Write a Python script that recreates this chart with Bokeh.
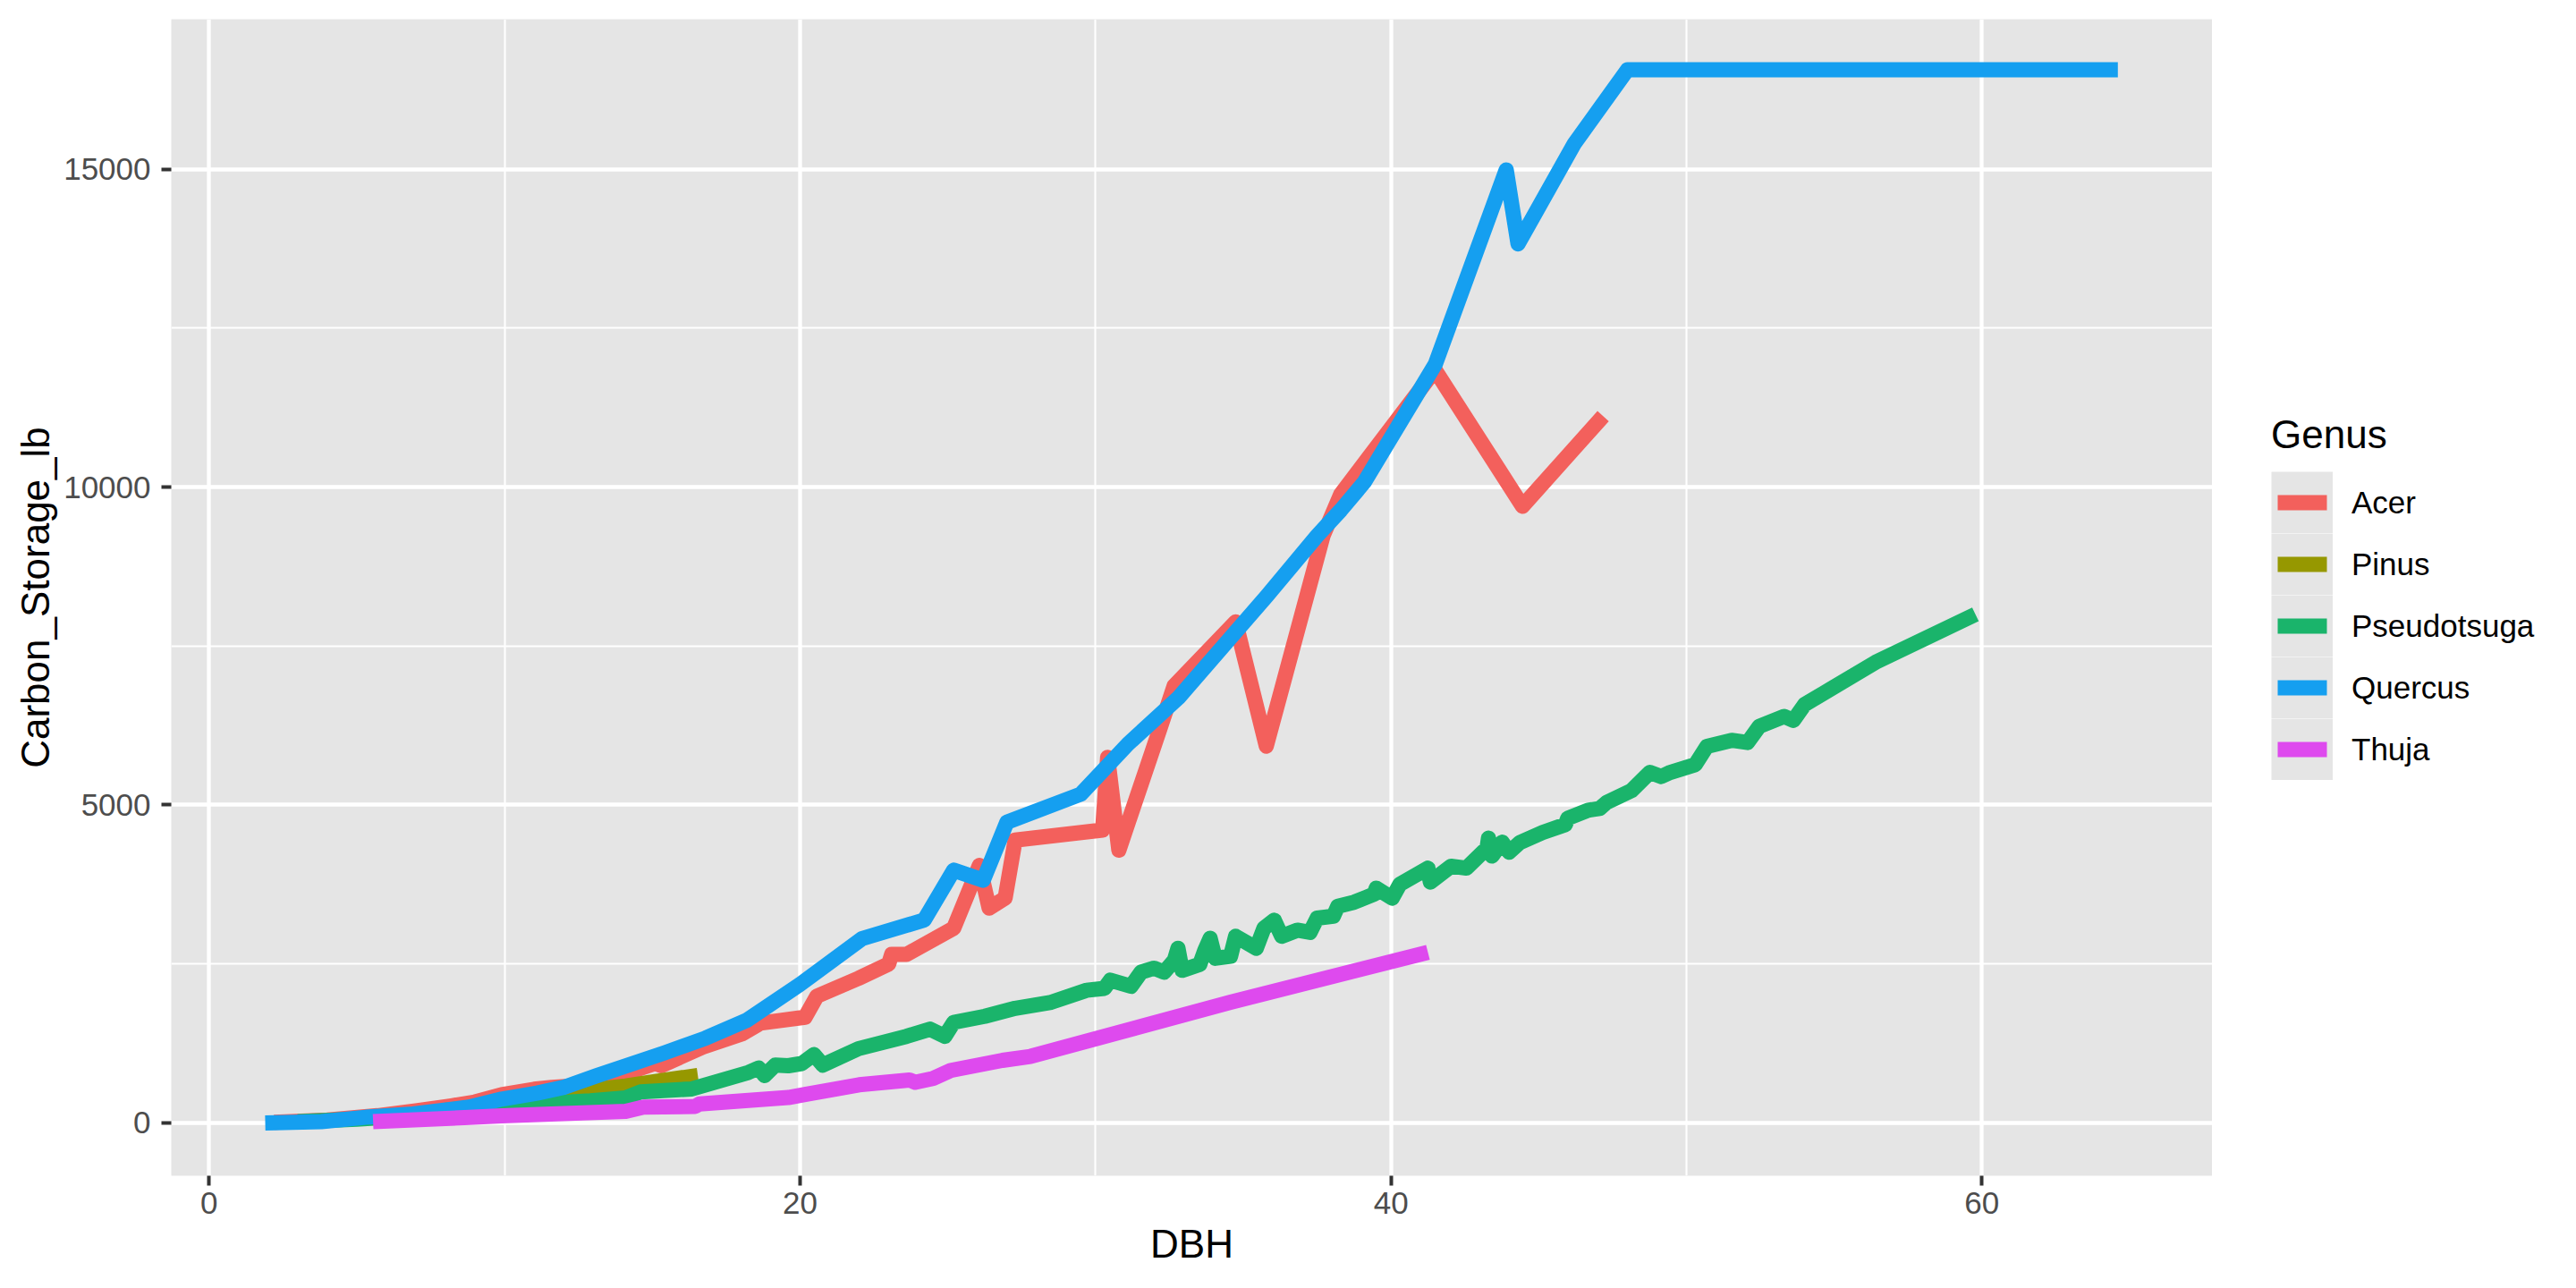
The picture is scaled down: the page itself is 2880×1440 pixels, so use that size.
import numpy as np
from bokeh.plotting import figure
from bokeh.layouts import row
from bokeh.models import Range1d, FixedTicker, Legend, LegendItem
from bokeh.embed import file_html
from bokeh.resources import INLINE

genera = ["Acer", "Pinus", "Pseudotsuga", "Quercus", "Thuja"]
colors = ["#F3605C", "#969800", "#1AB46B", "#159FF0", "#DE4AEE"]

acer_dbh = [2.2, 4.0, 5.7, 7.0, 8.2, 9.0, 9.9, 11.0, 11.6, 12.7, 13.6, 13.9, 15.1, 15.3, 16.7,
            18.05, 18.66, 20.17, 20.57, 21.98, 23.0, 23.1, 23.6, 25.2, 26.07, 26.4, 26.94, 27.28,
            30.24, 30.41, 30.79, 32.14, 32.66, 34.74, 35.78, 37.7, 38.3, 41.49, 44.45, 47.18]
acer_carbon = [10, 45, 115, 190, 270, 330, 445, 530, 560, 595, 629, 746, 939, 900, 1193,
               1405, 1570, 1663, 1993, 2275, 2500, 2650, 2650, 3062, 4050, 3379, 3535, 4447,
               4606, 5750, 4290, 6147, 6871, 7878, 5926, 9233, 9887, 11842, 9698, 11115]

pinus_dbh = [8.0, 10.0, 11.9, 14.1, 15.1, 16.54]
pinus_carbon = [200, 290, 464, 582, 653, 746]

pseudotsuga_dbh = [3.0, 5.0, 7.0, 8.5, 9.9, 11.07, 12.9, 14.1, 14.6, 16.34, 18.25, 18.6, 18.8,
                   19.16, 19.6, 20.06, 20.47, 20.77, 21.98, 23.6, 24.4, 24.9, 25.2, 26.25, 27.28,
                   28.5, 29.7, 30.3, 30.5, 31.2, 31.54, 31.98, 32.32, 32.67, 32.79, 32.93, 33.53,
                   33.7, 33.88, 34.05, 34.57, 34.74, 35.44, 35.7, 36.05, 36.3, 36.83, 37.26, 37.5,
                   38.05, 38.2, 38.75, 39.43, 39.5, 40.04, 40.3, 41.25, 41.33, 42.03, 42.55, 43.25,
                   43.3, 43.42, 43.76, 44.0, 44.36, 45.13, 45.9, 45.98, 46.67, 47.06, 47.3, 48.14,
                   48.76, 49.15, 49.45, 50.3, 50.69, 51.53, 52.07, 52.46, 53.31, 53.62, 54.0, 56.4,
                   59.78]
pseudotsuga_carbon = [20, 60, 120, 180, 253, 300, 347, 394, 488, 535, 794, 864, 746,
                      911, 900, 935, 1076, 911, 1169, 1362, 1475, 1362, 1582, 1677, 1803,
                      1898, 2086, 2117, 2244, 2149, 2370, 2434, 2370, 2561, 2747, 2400, 2495,
                      2716, 2904, 2589, 2621, 2936, 2747, 3062, 3188, 2936, 3031, 2998, 3220,
                      3252, 3408, 3471, 3598, 3692, 3535, 3754, 4007, 3788, 4038, 4007, 4322,
                      4479, 4197, 4416, 4258, 4409, 4567, 4692, 4790, 4917, 4945, 5040, 5227,
                      5512, 5448, 5512, 5636, 5921, 6017, 5983, 6235, 6393, 6330, 6581, 7244,
                      7998]

quercus_dbh = [1.9, 3.8, 5.3, 6.9, 8.8, 9.9, 11.1, 12.0, 13.1, 14.0, 15.4, 16.8, 18.2, 20.0,
               22.1, 24.2, 25.2, 26.2, 27.0, 29.5, 31.1, 32.8, 35.8, 37.5, 38.3, 39.1, 41.5,
               43.9, 44.3, 46.2, 48.0, 64.6]
quercus_carbon = [0, 20, 90, 140, 250, 375, 470, 560, 740, 880, 1100, 1334, 1616, 2180,
                  2900, 3190, 3975, 3817, 4730, 5170, 5960, 6683, 8288, 9233, 9636, 10079, 11933,
                  14987, 13823, 15396, 16560, 16560]

thuja_dbh = [5.55, 8.8, 9.9, 14.1, 14.7, 16.45, 16.6, 19.6, 20.17, 22.0, 23.7, 23.9, 24.5,
             25.1, 26.85, 27.8, 34.57, 41.25]
thuja_carbon = [20, 88, 111, 182, 250, 260, 300, 400, 449, 600, 676, 640, 700,
                826, 984, 1047, 1898, 2684]

series = [(acer_dbh, acer_carbon), (pinus_dbh, pinus_carbon),
          (pseudotsuga_dbh, pseudotsuga_carbon), (quercus_dbh, quercus_carbon),
          (thuja_dbh, thuja_carbon)]

x_ticks = [0, 20, 40, 60]
x_minor = [10, 30, 50]
y_ticks = [0, 5000, 10000, 15000]
y_minor = [2500, 7500, 12500]

PANEL = "#E5E5E5"
FONT = "Liberation Sans"

p = figure(width=2473, height=1424, output_backend="svg", toolbar_location=None,
           x_range=Range1d(-1.28, 67.8), y_range=Range1d(-830, 17356),
           min_border_left=191, min_border_right=0, min_border_top=21,
           min_border_bottom=110)
p.background_fill_color = PANEL
p.border_fill_color = "white"
p.outline_line_color = None

p.xaxis.ticker = FixedTicker(ticks=x_ticks, minor_ticks=x_minor)
p.yaxis.ticker = FixedTicker(ticks=y_ticks, minor_ticks=y_minor)
p.xgrid.ticker = p.xaxis.ticker
p.ygrid.ticker = p.yaxis.ticker

for g in (p.xgrid, p.ygrid):
    g.grid_line_color = "white"
    g.grid_line_width = 4.3
    g.minor_grid_line_color = "white"
    g.minor_grid_line_width = 2.1

for ax in (p.xaxis, p.yaxis):
    ax.axis_line_color = None
    ax.major_tick_out = 11
    ax.major_tick_in = 0
    ax.major_tick_line_color = "#333333"
    ax.major_tick_line_width = 4
    ax.minor_tick_out = 0
    ax.minor_tick_in = 0
    ax.major_label_text_font = FONT
    ax.major_label_text_font_size = "35px"
    ax.major_label_text_color = "#4D4D4D"
    ax.axis_label_text_font = FONT
    ax.axis_label_text_font_size = "44px"
    ax.axis_label_text_font_style = "normal"
    ax.axis_label_text_color = "black"

p.xaxis.axis_label = "DBH"
p.yaxis.axis_label = "Carbon_Storage_lb"
p.xaxis.major_label_standoff = 7
p.xaxis.axis_label_standoff = 6
p.yaxis.major_label_standoff = 12
p.yaxis.axis_label_standoff = 4

for (xs, ys), c in zip(series, colors):
    p.line(xs, ys, line_color=c, line_width=17, line_join="round", line_cap="butt")

# legend panel: a blank figure to the right of the plot that only holds the legend
pl = figure(width=2864 - 2473, height=1424, output_backend="svg", toolbar_location=None,
            x_range=Range1d(0, 1), y_range=Range1d(0, 1),
            x_axis_type=None, y_axis_type=None,
            min_border_left=0, min_border_right=0, min_border_top=0, min_border_bottom=0)
pl.background_fill_color = "white"
pl.border_fill_color = "white"
pl.outline_line_color = None
pl.xgrid.visible = False
pl.ygrid.visible = False

nan = np.array([np.nan])
bg = pl.line(nan, nan, line_color=PANEL, line_width=69, line_cap="butt")
items = []
for name, c in zip(genera, colors):
    key = pl.line(nan, nan, line_color=c, line_width=17, line_cap="butt", line_dash="0 7 55 7")
    items.append(LegendItem(label=name, renderers=[bg, key]))

legend = Legend(items=items, location=(66, 442))
legend.title = "Genus"
legend.title_text_font = FONT
legend.title_text_font_size = "44px"
legend.title_text_font_style = "normal"
legend.title_text_color = "black"
legend.title_standoff = 16
legend.label_text_font = FONT
legend.label_text_font_size = "35px"
legend.label_text_color = "black"
legend.glyph_width = 69
legend.glyph_height = 69
legend.label_standoff = 21
legend.spacing = 0
legend.padding = 0
legend.margin = 0
legend.border_line_alpha = 0
legend.background_fill_alpha = 0
pl.add_layout(legend, "center")

layout = row(p, pl)
open("out.html", "w").write(file_html(layout, INLINE))
